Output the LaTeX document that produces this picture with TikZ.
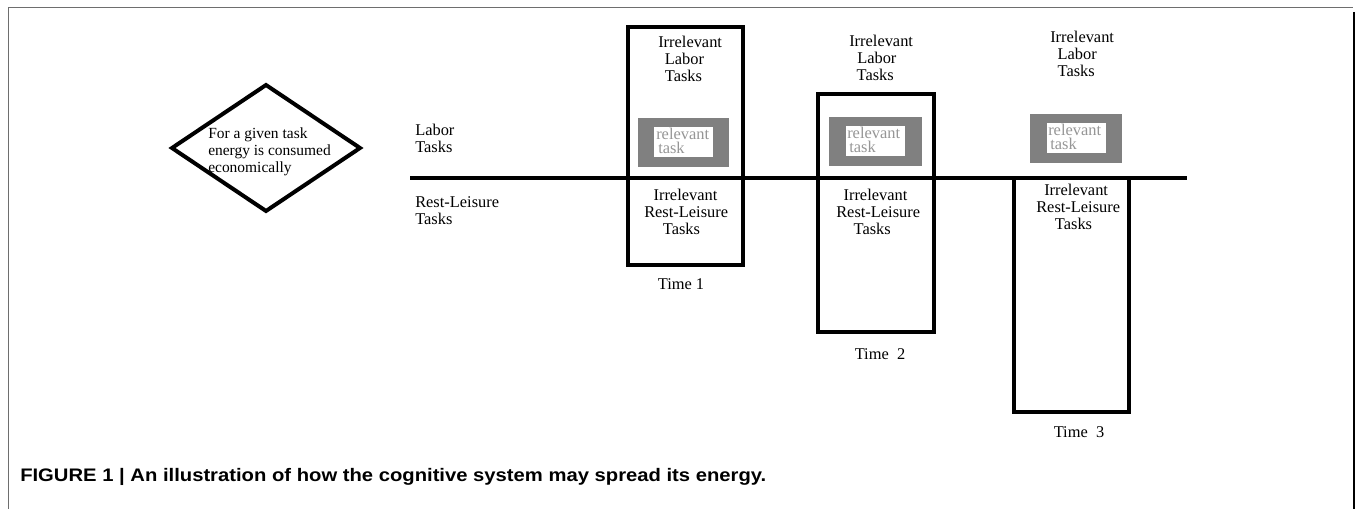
\documentclass[tikz,border=0pt]{standalone}
\usepackage{fontspec}
\setmainfont{Liberation Serif}
\newfontfamily\capfont{Liberation Sans}
\usepackage{graphicx}
\definecolor{framegray}{RGB}{110,110,110}
\definecolor{relgray}{RGB}{128,128,128}
\definecolor{reltext}{RGB}{150,150,150}
\tikzset{
  txt/.style={anchor=base west, inner sep=0pt, align=left, font=\fontsize{12.3pt}{13.1pt}\selectfont},
  dtxt/.style={anchor=base west, inner sep=0pt, align=left, font=\fontsize{11.6pt}{13.1pt}\selectfont},
  timetxt/.style={anchor=base, inner sep=0pt, font=\fontsize{12.3pt}{13.1pt}\selectfont},
  reltxt/.style={anchor=base west, inner sep=0pt, align=left, text=reltext, font=\fontsize{12.3pt}{10.5pt}\selectfont},
  bigbox/.style={draw=black, line width=3pt},
  graybox/.style={fill=relgray},
  whitebox/.style={fill=white},
  axis/.style={draw=black, line width=2.3pt},
}
\begin{document}
\begin{tikzpicture}[x=0.75pt,y=-0.75pt]
\useasboundingbox (0,0) rectangle (1355,509);
% frame
\draw[framegray, line width=1.2pt] (8.5,509) -- (8.5,7.5) -- (1353,7.5);
\draw[black, line width=1.2pt] (1354,12) -- (1354,509);

% diamond
\coordinate (dl) at (172,148);
\coordinate (dt) at (266,85);
\coordinate (dr) at (360,148);
\coordinate (db) at (266,211);
\draw[black, line width=3pt, line join=miter] (dl) -- (dt) -- (dr) -- (db) -- cycle;
\node[dtxt] (dtext) at (208,173) {For a given task\\energy is consumed\\economically};

% axis
\coordinate (axl) at (410,178);
\coordinate (axr) at (1187,178);
\draw[axis] (axl) -- (axr);
\node[txt] (labor) at (415,152.5) {Labor\\Tasks};
\node[txt] (rest) at (415,224.5) {Rest-Leisure\\Tasks};

% Time 1
\coordinate (b1a) at (628,27);
\coordinate (b1b) at (743,265);
\draw[bigbox] (b1a) rectangle (b1b);
\fill[graybox] (638,118) rectangle (729,167);
\fill[whitebox] (654,127) rectangle (713,157);
\node[reltxt] (r1) at (656,154) {relevant\\\hspace{1.5pt}task};
\node[txt] (u1) at (658,82) {Irrelevant\\\hspace{5pt}Labor\\\hspace{5pt}Tasks};
\node[txt] (l1) at (644,235) {\hspace{7pt}Irrelevant\\Rest-Leisure\\\hspace{14pt}Tasks};
\node[timetxt] (t1) at (681,290) {Time 1};

% Time 2
\coordinate (b2a) at (818,94);
\coordinate (b2b) at (934,332);
\draw[bigbox] (b2a) rectangle (b2b);
\fill[graybox] (829,117) rectangle (922,166);
\fill[whitebox] (846,126) rectangle (905,156);
\node[reltxt] (r2) at (847,153) {relevant\\\hspace{1.5pt}task};
\node[txt] (u2) at (849,81) {Irrelevant\\\hspace{6pt}Labor\\\hspace{5.5pt}Tasks};
\node[txt] (l2) at (836,235) {\hspace{5.5pt}Irrelevant\\Rest-Leisure\\\hspace{13pt}Tasks};
\node[timetxt] (t2) at (880,359) {Time\ \ 2};

% Time 3
\coordinate (b3tl) at (1014,178);
\coordinate (b3bl) at (1014,412);
\coordinate (b3br) at (1129,412);
\coordinate (b3tr) at (1129,178);
\draw[bigbox, line join=miter] (b3tl) -- (b3bl) -- (b3br) -- (b3tr);
\fill[graybox] (1030,114) rectangle (1122,163);
\fill[whitebox] (1047,123) rectangle (1106,153);
\node[reltxt] (r3) at (1048,150) {relevant\\\hspace{1.5pt}task};
\node[txt] (u3) at (1050,77) {Irrelevant\\\hspace{5.5pt}Labor\\\hspace{5.5pt}Tasks};
\node[txt] (l3) at (1036,230) {\hspace{6pt}Irrelevant\\Rest-Leisure\\\hspace{14pt}Tasks};
\node[timetxt] (t3) at (1079,437) {Time\ \ 3};

% caption
\node[anchor=base west, inner sep=0pt] (cap) at (20,481)
  {\resizebox{559.5pt}{\height}{\capfont\bfseries\fontsize{13.6pt}{15pt}\selectfont FIGURE 1 | An illustration of how the cognitive system may spread its energy.}};
\end{tikzpicture}
\end{document}
